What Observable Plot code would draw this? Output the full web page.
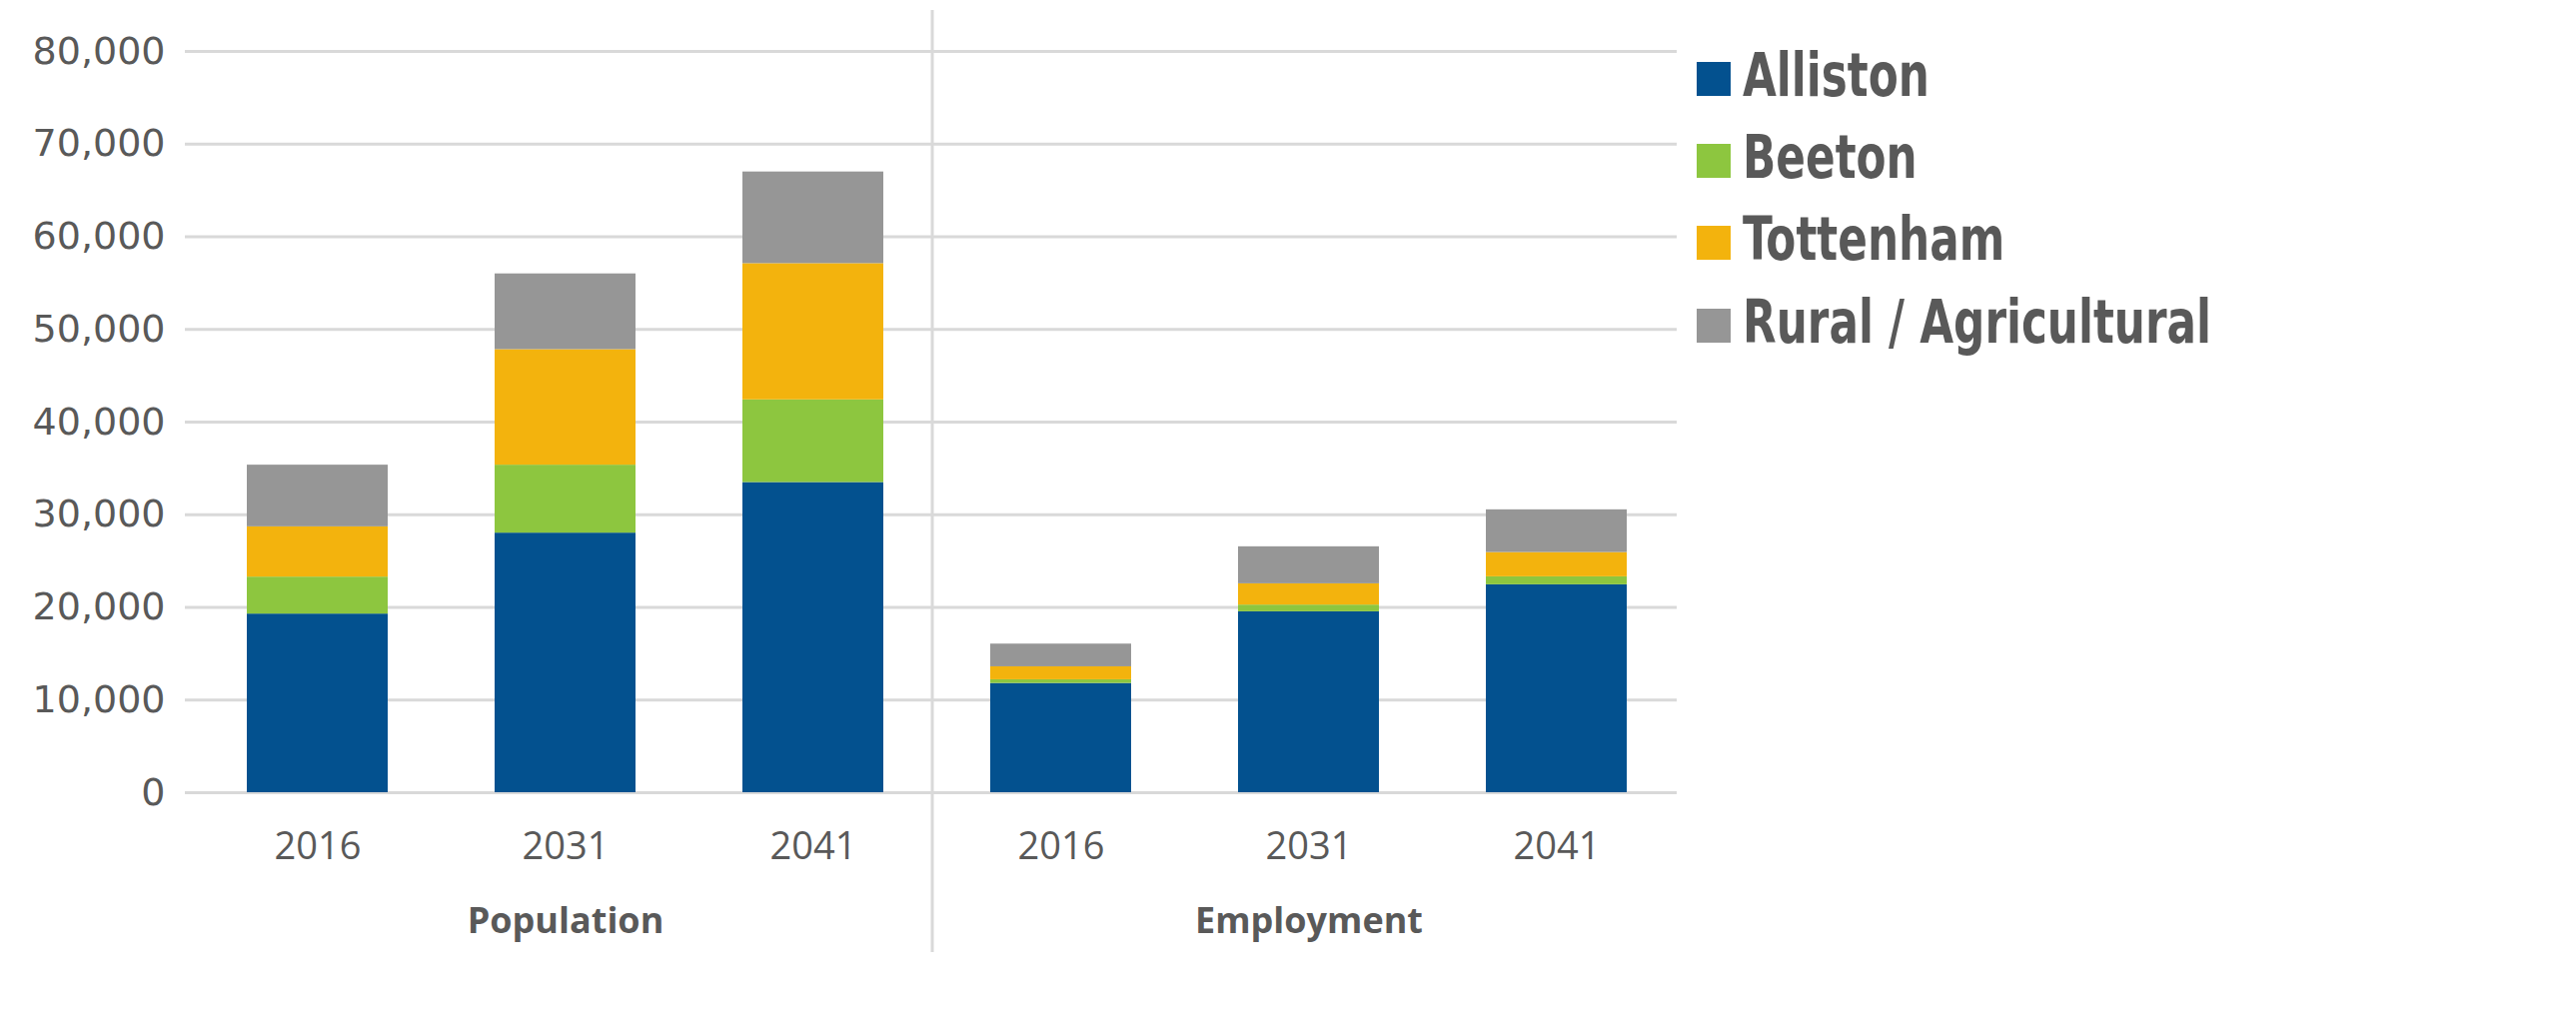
<!DOCTYPE html>
<html>
<head>
<meta charset="utf-8">
<script src="https://cdn.jsdelivr.net/npm/d3@7"></script>
<script src="https://cdn.jsdelivr.net/npm/@observablehq/plot@0.6"></script>
<style>
  html, body { margin: 0; padding: 0; background: #fff; overflow: hidden; }
  #wrap { position: relative; width: 2578px; height: 1014px; }
  #chart { position: absolute; left: 0; top: 0; }
  #legend {
    position: absolute; left: 1698px; top: 34px;
    font-family: "Liberation Sans Narrow", "DejaVu Sans Condensed", "Roboto", sans-serif;
    font-stretch: condensed; font-weight: bold; font-size: 60px; color: #595959;
  }
  .item { height: 82.2px; line-height: 82px; white-space: nowrap; }
  .sw { display: inline-block; width: 34px; height: 34px; margin-right: 12px; }
  .lbl { display: inline-block; transform: scaleX(0.81); transform-origin: left center; }
</style>
</head>
<body>
<div id="wrap">
  <div id="chart"></div>
  <div id="legend"></div>
</div>
<script>
// ---- data ----
const groups = ["Population", "Employment"];
const years = ["2016", "2031", "2041"];
const series = ["Alliston", "Beeton", "Tottenham", "Rural / Agricultural"];
const colors = ["#03518f", "#8dc63f", "#f3b30d", "#969696"];
// order: Population 2016, 2031, 2041, Employment 2016, 2031, 2041
const alliston  = [19280, 28015, 33475, 11790, 19525, 22440];
const beeton    = [3990, 7335, 8920, 400, 725, 860];
const tottenham = [5425, 12470, 14705, 1400, 2295, 2620];
const rural     = [6655, 8170, 9890, 2450, 3995, 4610];
const yTicks = [0, 10000, 20000, 30000, 40000, 50000, 60000, 70000, 80000];

const values = [alliston, beeton, tottenham, rural];
const keys = [];
groups.forEach(g => years.forEach(y => keys.push(g + "|" + y)));
const data = [];
series.forEach((s, si) => keys.forEach((k, ki) => data.push({key: k, series: s, value: values[si][ki]})));
const middleKeys = groups.map(g => g + "|" + years[1]);
const sepKey = groups[1] + "|" + years[0];

const textColor = "#595959";
const gridColor = "#d9d9d9";

const base = {
  width: 1700,
  height: 1000,
  marginLeft: 185,
  marginRight: 22,
  marginTop: 51,
  marginBottom: 207,
  x: {type: "band", domain: keys, paddingInner: 0.432, paddingOuter: 0.221, align: 0.557, label: null},
  y: {domain: [0, 80000], label: null},
  color: {domain: series, range: colors}
};

const probe = Plot.plot({...base, marks: [Plot.barY(data, {x: "key", y: "value"})]});
const sx = probe.scale("x");
const step = sx.step;

const chart = Plot.plot({
  ...base,
  style: {background: "#fff", color: textColor},
  marks: [
    Plot.gridY({ticks: yTicks, stroke: gridColor, strokeOpacity: 1, strokeWidth: 3}),
    Plot.ruleX([sepKey], {x: d => d, dx: -step / 2 - 5, insetTop: -41, insetBottom: -160, stroke: gridColor, strokeWidth: 3}),
    Plot.barY(data, {x: "key", y: "value", fill: "series"}),
    Plot.axisY({ticks: yTicks, tickFormat: d3.format(","), tickSize: 0, tickPadding: 20,
      fontSize: 38, fontFamily: "DejaVu Sans", fill: textColor, label: null}),
    Plot.axisX({tickSize: 0, tickPadding: 40, tickFormat: k => k.split("|")[1],
      fontSize: 38, fontFamily: "Open Sans", fill: textColor, label: null}),
    Plot.axisX({ticks: middleKeys, tickSize: 0, tickPadding: 115, tickFormat: k => k.split("|")[0],
      fontSize: 36, fontWeight: "bold", fontFamily: "Open Sans", fill: textColor, label: null})
  ]
});
document.getElementById("chart").appendChild(chart);

const legend = document.getElementById("legend");
series.forEach((s, i) => {
  const row = document.createElement("div");
  row.className = "item";
  const sw = document.createElement("span");
  sw.className = "sw";
  sw.style.background = colors[i];
  row.appendChild(sw);
  const lbl = document.createElement("span");
  lbl.className = "lbl";
  lbl.textContent = s;
  row.appendChild(lbl);
  legend.appendChild(row);
});
</script>
</body>
</html>
